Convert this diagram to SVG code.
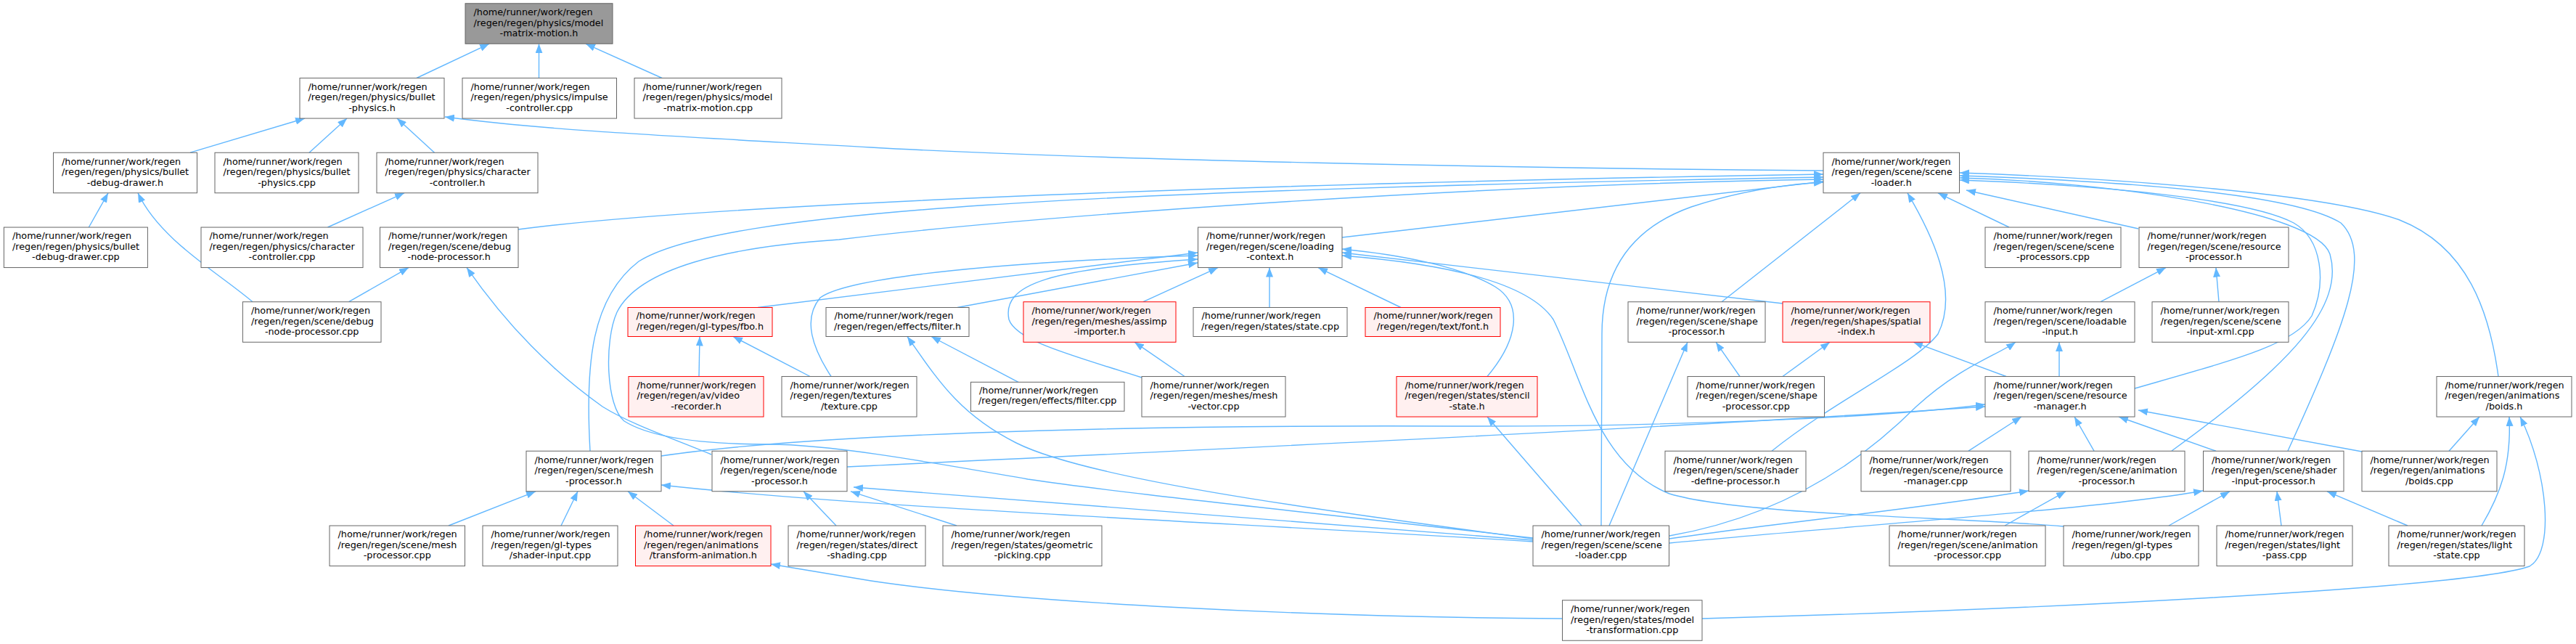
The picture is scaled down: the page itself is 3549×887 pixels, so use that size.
<svg xmlns="http://www.w3.org/2000/svg" width="3549" height="887" viewBox="0 0 3549 887">
<defs>
<style>
.nd rect{fill:#fff;stroke:#666;stroke-width:1}
.nd.r rect{fill:#fff0f0;stroke:#f00}
.nd.root rect{fill:#999;stroke:#666}
text{font-family:"DejaVu Sans","Liberation Sans",sans-serif;font-size:12.8px;fill:#000}
.c{text-anchor:middle}
.e path{fill:none;stroke:#63b8ff;stroke-width:1.4;marker-end:url(#a)}
</style>
<marker id="a" viewBox="0 0 13 10" refX="13" refY="5" markerWidth="13" markerHeight="10" markerUnits="userSpaceOnUse" orient="auto"><path d="M0,0 L13,5 L0,10 z" fill="#63b8ff"/></marker>
</defs>
<rect width="3549" height="887" fill="#fff"/>
<g id="edges" class="e">
<path d="M574,107.5 L674,60.3"/>
<path d="M742.5,107.5 L742.5,60.3"/>
<path d="M912,107.5 L807,60.3"/>
<path d="M262,210.2 L420,163"/>
<path d="M426,210.2 L478,163"/>
<path d="M598.5,210.2 L547,163"/>
<path d="M2512,235 C2100,232 1500,220 1200,203 S760,180 613,161"/>
<path d="M122.4,313 L149,265.8"/>
<path d="M348,415.7 C300,375 220,330 190,265.8"/>
<path d="M451.5,313 L557,265.8"/>
<path d="M480.6,415.7 L563,368.6"/>
<path d="M980,626 C930,605 870,585 830,560 C760,510 700,450 643,368.6"/>
<path d="M714,316 C950,285 1600,255 2512,240"/>
<path d="M1849,327 L2512,250"/>
<path d="M2768,313 L2670,265.8"/>
<path d="M2946,315 L2709,262"/>
<path d="M2372,415.7 L2563,265.8"/>
<path d="M2441,621.2 C2530,550 2640,500 2670,460 C2700,400 2660,320 2628,265.8"/>
<path d="M2206,724 L2207,460 C2207,360 2260,310 2330,285 C2400,262 2460,254 2512,251"/>
<path d="M813,621.2 C806,500 815,410 880,360 C990,290 1500,262 2512,244"/>
<path d="M2112,741 C1800,705 1550,680 1416,660 C1300,640 1150,612 1060,612 C980,612 900,605 860,580 C835,560 832,470 850,430 C880,370 1000,340 1156,330 C1400,300 2000,255 2512,247"/>
<path d="M2941,535 C3080,495 3160,475 3185,435 C3205,390 3200,330 3160,307 C3100,275 2900,255 2700,248"/>
<path d="M2992,621 C3160,500 3230,420 3210,350 C3190,290 2900,250 2700,245"/>
<path d="M3152,621 C3230,450 3270,350 3225,307 C3150,260 2850,247 2700,242"/>
<path d="M3442,518.5 C3430,430 3400,340 3306,303 C3200,265 2900,245 2700,238"/>
<path d="M2894,415.7 L2984,368.6"/>
<path d="M3057,415.7 L3053,368.6"/>
<path d="M1044,423.5 L1650,348"/>
<path d="M1319,423.5 L1650,362"/>
<path d="M1145,518.5 C1120,480 1105,440 1130,410 C1170,380 1400,360 1650,352"/>
<path d="M1573,520 C1480,490 1400,470 1390,440 C1380,390 1450,370 1650,357"/>
<path d="M1575,415.7 L1678,368.6"/>
<path d="M1749,423.5 L1749,368.6"/>
<path d="M1930,423.5 L1816,368.6"/>
<path d="M2456,418 L1849,348"/>
<path d="M2049,518.5 C2090,470 2100,420 2060,395 C2010,365 1920,350 1849,343"/>
<path d="M2843,725 C2700,712 2400,710 2300,680 C2200,640 2180,520 2140,440 C2100,380 1950,360 1849,352"/>
<path d="M963,518.5 L964,463.5"/>
<path d="M1116,518.5 L1010,463.5"/>
<path d="M1403,526.3 L1283,463.5"/>
<path d="M2112,742 C1800,700 1500,660 1400,610 C1320,570 1290,520 1250,463.5"/>
<path d="M1632,518.5 L1563,471.2"/>
<path d="M2179,724 L2049,574"/>
<path d="M2217,724 L2325,471.2"/>
<path d="M2397,518.5 L2364,471.2"/>
<path d="M2456,518.5 L2521,471.2"/>
<path d="M2764,518.5 L2636,471.2"/>
<path d="M2837,518.5 L2837,471.2"/>
<path d="M2300,738 C2450,712 2560,640 2640,560 C2700,505 2750,490 2777,471.2"/>
<path d="M911,628 C1100,600 1500,585 2000,587 C2300,588 2600,575 2735,557"/>
<path d="M1167,643 C1600,622 2300,590 2735,560"/>
<path d="M2712,621.2 L2785,574"/>
<path d="M2885,621.2 L2858,574"/>
<path d="M3053,621.2 L2919,574"/>
<path d="M3254,622 L2946,565"/>
<path d="M3374,621.2 L3416,574"/>
<path d="M3419,724 C3445,680 3460,640 3457,574"/>
<path d="M2345,852 C2800,840 3400,810 3485,780 C3520,760 3510,650 3472,574"/>
<path d="M2762,724 L2846,676.8"/>
<path d="M2300,742 C2450,720 2650,700 2795,676"/>
<path d="M2300,748 C2600,720 2900,700 3035,676"/>
<path d="M2988,724 L3072,676.8"/>
<path d="M3143,724 L3137,676.8"/>
<path d="M3317,724 L3206,676.8"/>
<path d="M618,724 L738,676.8"/>
<path d="M773,724 L796,676.8"/>
<path d="M928,724 L865,676.8"/>
<path d="M2112,746 C1700,720 1200,700 911,668"/>
<path d="M1152,724 L1107,676.8"/>
<path d="M1318,724 L1172,676.8"/>
<path d="M2112,744 C1700,710 1400,690 1176,671"/>
<path d="M2152,852 C1800,850 1400,830 1200,800 L1062,777"/>
</g>
<g id="n0" class="nd root" transform="translate(641,4.75)"><rect width="203" height="55.5"/><text x="11.5" y="16.25">/home/runner/work/regen</text><text x="11.5" y="30.75">/regen/regen/physics/model</text><text class="c" x="101.5" y="45.25">-matrix-motion.h</text></g>
<g id="n1" class="nd" transform="translate(413,107.55)"><rect width="199" height="55.5"/><text x="11.5" y="16.25">/home/runner/work/regen</text><text x="11.5" y="30.75">/regen/regen/physics/bullet</text><text class="c" x="99.5" y="45.25">-physics.h</text></g>
<g id="n2" class="nd" transform="translate(637,107.55)"><rect width="212.5" height="55.5"/><text x="11.5" y="16.25">/home/runner/work/regen</text><text x="11.5" y="30.75">/regen/regen/physics/impulse</text><text class="c" x="106.25" y="45.25">-controller.cpp</text></g>
<g id="n3" class="nd" transform="translate(874,107.55)"><rect width="203" height="55.5"/><text x="11.5" y="16.25">/home/runner/work/regen</text><text x="11.5" y="30.75">/regen/regen/physics/model</text><text class="c" x="101.5" y="45.25">-matrix-motion.cpp</text></g>
<g id="n4" class="nd" transform="translate(73.5,210.25)"><rect width="198" height="55.5"/><text x="11.5" y="16.25">/home/runner/work/regen</text><text x="11.5" y="30.75">/regen/regen/physics/bullet</text><text class="c" x="99" y="45.25">-debug-drawer.h</text></g>
<g id="n5" class="nd" transform="translate(296,210.25)"><rect width="198" height="55.5"/><text x="11.5" y="16.25">/home/runner/work/regen</text><text x="11.5" y="30.75">/regen/regen/physics/bullet</text><text class="c" x="99" y="45.25">-physics.cpp</text></g>
<g id="n6" class="nd" transform="translate(519,210.25)"><rect width="222" height="55.5"/><text x="11.5" y="16.25">/home/runner/work/regen</text><text x="11.5" y="30.75">/regen/regen/physics/character</text><text class="c" x="111" y="45.25">-controller.h</text></g>
<g id="n7" class="nd" transform="translate(2512,210.25)"><rect width="187.5" height="55.5"/><text x="11.5" y="16.25">/home/runner/work/regen</text><text x="11.5" y="30.75">/regen/regen/scene/scene</text><text class="c" x="93.75" y="45.25">-loader.h</text></g>
<g id="n8" class="nd" transform="translate(5.4,313.05)"><rect width="198" height="55.5"/><text x="11.5" y="16.25">/home/runner/work/regen</text><text x="11.5" y="30.75">/regen/regen/physics/bullet</text><text class="c" x="99" y="45.25">-debug-drawer.cpp</text></g>
<g id="n9" class="nd" transform="translate(277,313.05)"><rect width="223" height="55.5"/><text x="11.5" y="16.25">/home/runner/work/regen</text><text x="11.5" y="30.75">/regen/regen/physics/character</text><text class="c" x="111.5" y="45.25">-controller.cpp</text></g>
<g id="n10" class="nd" transform="translate(523.5,313.05)"><rect width="190.5" height="55.5"/><text x="11.5" y="16.25">/home/runner/work/regen</text><text x="11.5" y="30.75">/regen/regen/scene/debug</text><text class="c" x="95.25" y="45.25">-node-processor.h</text></g>
<g id="n11" class="nd" transform="translate(1650.5,313.05)"><rect width="198.5" height="55.5"/><text x="11.5" y="16.25">/home/runner/work/regen</text><text x="11.5" y="30.75">/regen/regen/scene/loading</text><text class="c" x="99.25" y="45.25">-context.h</text></g>
<g id="n12" class="nd" transform="translate(2735,313.05)"><rect width="187" height="55.5"/><text x="11.5" y="16.25">/home/runner/work/regen</text><text x="11.5" y="30.75">/regen/regen/scene/scene</text><text class="c" x="93.5" y="45.25">-processors.cpp</text></g>
<g id="n13" class="nd" transform="translate(2947,313.05)"><rect width="206" height="55.5"/><text x="11.5" y="16.25">/home/runner/work/regen</text><text x="11.5" y="30.75">/regen/regen/scene/resource</text><text class="c" x="103" y="45.25">-processor.h</text></g>
<g id="n14" class="nd" transform="translate(334.4,415.75)"><rect width="190.6" height="55.5"/><text x="11.5" y="16.25">/home/runner/work/regen</text><text x="11.5" y="30.75">/regen/regen/scene/debug</text><text class="c" x="95.3" y="45.25">-node-processor.cpp</text></g>
<g id="n15" class="nd r" transform="translate(865,423.5)"><rect width="199" height="40"/><text x="11.5" y="15.7">/home/runner/work/regen</text><text class="c" x="99.5" y="30">/regen/regen/gl-types/fbo.h</text></g>
<g id="n16" class="nd" transform="translate(1138,423.5)"><rect width="197" height="40"/><text x="11.5" y="15.7">/home/runner/work/regen</text><text class="c" x="98.5" y="30">/regen/regen/effects/filter.h</text></g>
<g id="n17" class="nd r" transform="translate(1410,415.75)"><rect width="210" height="55.5"/><text x="11.5" y="16.25">/home/runner/work/regen</text><text x="11.5" y="30.75">/regen/regen/meshes/assimp</text><text class="c" x="105" y="45.25">-importer.h</text></g>
<g id="n18" class="nd" transform="translate(1644,423.5)"><rect width="212" height="40"/><text x="11.5" y="15.7">/home/runner/work/regen</text><text class="c" x="106" y="30">/regen/regen/states/state.cpp</text></g>
<g id="n19" class="nd r" transform="translate(1881,423.5)"><rect width="186" height="40"/><text x="11.5" y="15.7">/home/runner/work/regen</text><text class="c" x="93" y="30">/regen/regen/text/font.h</text></g>
<g id="n20" class="nd" transform="translate(2243,415.75)"><rect width="189" height="55.5"/><text x="11.5" y="16.25">/home/runner/work/regen</text><text x="11.5" y="30.75">/regen/regen/scene/shape</text><text class="c" x="94.5" y="45.25">-processor.h</text></g>
<g id="n21" class="nd r" transform="translate(2456,415.75)"><rect width="203" height="55.5"/><text x="11.5" y="16.25">/home/runner/work/regen</text><text x="11.5" y="30.75">/regen/regen/shapes/spatial</text><text class="c" x="101.5" y="45.25">-index.h</text></g>
<g id="n22" class="nd" transform="translate(2735,415.75)"><rect width="206" height="55.5"/><text x="11.5" y="16.25">/home/runner/work/regen</text><text x="11.5" y="30.75">/regen/regen/scene/loadable</text><text class="c" x="103" y="45.25">-input.h</text></g>
<g id="n23" class="nd" transform="translate(2965,415.75)"><rect width="188" height="55.5"/><text x="11.5" y="16.25">/home/runner/work/regen</text><text x="11.5" y="30.75">/regen/regen/scene/scene</text><text class="c" x="94" y="45.25">-input-xml.cpp</text></g>
<g id="n24" class="nd r" transform="translate(866,518.55)"><rect width="186" height="55.5"/><text x="11.5" y="16.25">/home/runner/work/regen</text><text x="11.5" y="30.75">/regen/regen/av/video</text><text class="c" x="93" y="45.25">-recorder.h</text></g>
<g id="n25" class="nd" transform="translate(1077,518.55)"><rect width="186" height="55.5"/><text x="11.5" y="16.25">/home/runner/work/regen</text><text x="11.5" y="30.75">/regen/regen/textures</text><text class="c" x="93" y="45.25">/texture.cpp</text></g>
<g id="n26" class="nd" transform="translate(1337.5,526.3)"><rect width="211.5" height="40"/><text x="11.5" y="15.7">/home/runner/work/regen</text><text class="c" x="105.75" y="30">/regen/regen/effects/filter.cpp</text></g>
<g id="n27" class="nd" transform="translate(1573,518.55)"><rect width="198" height="55.5"/><text x="11.5" y="16.25">/home/runner/work/regen</text><text x="11.5" y="30.75">/regen/regen/meshes/mesh</text><text class="c" x="99" y="45.25">-vector.cpp</text></g>
<g id="n28" class="nd r" transform="translate(1924,518.55)"><rect width="194" height="55.5"/><text x="11.5" y="16.25">/home/runner/work/regen</text><text x="11.5" y="30.75">/regen/regen/states/stencil</text><text class="c" x="97" y="45.25">-state.h</text></g>
<g id="n29" class="nd" transform="translate(2325,518.55)"><rect width="188.5" height="55.5"/><text x="11.5" y="16.25">/home/runner/work/regen</text><text x="11.5" y="30.75">/regen/regen/scene/shape</text><text class="c" x="94.25" y="45.25">-processor.cpp</text></g>
<g id="n30" class="nd" transform="translate(2735,518.55)"><rect width="206" height="55.5"/><text x="11.5" y="16.25">/home/runner/work/regen</text><text x="11.5" y="30.75">/regen/regen/scene/resource</text><text class="c" x="103" y="45.25">-manager.h</text></g>
<g id="n31" class="nd" transform="translate(3357,518.55)"><rect width="186" height="55.5"/><text x="11.5" y="16.25">/home/runner/work/regen</text><text x="11.5" y="30.75">/regen/regen/animations</text><text class="c" x="93" y="45.25">/boids.h</text></g>
<g id="n32" class="nd" transform="translate(725,621.25)"><rect width="186" height="55.5"/><text x="11.5" y="16.25">/home/runner/work/regen</text><text x="11.5" y="30.75">/regen/regen/scene/mesh</text><text class="c" x="93" y="45.25">-processor.h</text></g>
<g id="n33" class="nd" transform="translate(981,621.25)"><rect width="186" height="55.5"/><text x="11.5" y="16.25">/home/runner/work/regen</text><text x="11.5" y="30.75">/regen/regen/scene/node</text><text class="c" x="93" y="45.25">-processor.h</text></g>
<g id="n34" class="nd" transform="translate(2294,621.25)"><rect width="194" height="55.5"/><text x="11.5" y="16.25">/home/runner/work/regen</text><text x="11.5" y="30.75">/regen/regen/scene/shader</text><text class="c" x="97" y="45.25">-define-processor.h</text></g>
<g id="n35" class="nd" transform="translate(2564,621.25)"><rect width="206" height="55.5"/><text x="11.5" y="16.25">/home/runner/work/regen</text><text x="11.5" y="30.75">/regen/regen/scene/resource</text><text class="c" x="103" y="45.25">-manager.cpp</text></g>
<g id="n36" class="nd" transform="translate(2795,621.25)"><rect width="215" height="55.5"/><text x="11.5" y="16.25">/home/runner/work/regen</text><text x="11.5" y="30.75">/regen/regen/scene/animation</text><text class="c" x="107.5" y="45.25">-processor.h</text></g>
<g id="n37" class="nd" transform="translate(3035.5,621.25)"><rect width="193.5" height="55.5"/><text x="11.5" y="16.25">/home/runner/work/regen</text><text x="11.5" y="30.75">/regen/regen/scene/shader</text><text class="c" x="96.75" y="45.25">-input-processor.h</text></g>
<g id="n38" class="nd" transform="translate(3254,621.25)"><rect width="186" height="55.5"/><text x="11.5" y="16.25">/home/runner/work/regen</text><text x="11.5" y="30.75">/regen/regen/animations</text><text class="c" x="93" y="45.25">/boids.cpp</text></g>
<g id="n39" class="nd" transform="translate(454,724.05)"><rect width="186.5" height="55.5"/><text x="11.5" y="16.25">/home/runner/work/regen</text><text x="11.5" y="30.75">/regen/regen/scene/mesh</text><text class="c" x="93.25" y="45.25">-processor.cpp</text></g>
<g id="n40" class="nd" transform="translate(665,724.05)"><rect width="186" height="55.5"/><text x="11.5" y="16.25">/home/runner/work/regen</text><text x="11.5" y="30.75">/regen/regen/gl-types</text><text class="c" x="93" y="45.25">/shader-input.cpp</text></g>
<g id="n41" class="nd r" transform="translate(875.5,724.05)"><rect width="186.5" height="55.5"/><text x="11.5" y="16.25">/home/runner/work/regen</text><text x="11.5" y="30.75">/regen/regen/animations</text><text class="c" x="93.25" y="45.25">/transform-animation.h</text></g>
<g id="n42" class="nd" transform="translate(1086,724.05)"><rect width="189" height="55.5"/><text x="11.5" y="16.25">/home/runner/work/regen</text><text x="11.5" y="30.75">/regen/regen/states/direct</text><text class="c" x="94.5" y="45.25">-shading.cpp</text></g>
<g id="n43" class="nd" transform="translate(1299,724.05)"><rect width="219" height="55.5"/><text x="11.5" y="16.25">/home/runner/work/regen</text><text x="11.5" y="30.75">/regen/regen/states/geometric</text><text class="c" x="109.5" y="45.25">-picking.cpp</text></g>
<g id="n44" class="nd" transform="translate(2112,724.05)"><rect width="187.5" height="55.5"/><text x="11.5" y="16.25">/home/runner/work/regen</text><text x="11.5" y="30.75">/regen/regen/scene/scene</text><text class="c" x="93.75" y="45.25">-loader.cpp</text></g>
<g id="n45" class="nd" transform="translate(2603,724.05)"><rect width="215" height="55.5"/><text x="11.5" y="16.25">/home/runner/work/regen</text><text x="11.5" y="30.75">/regen/regen/scene/animation</text><text class="c" x="107.5" y="45.25">-processor.cpp</text></g>
<g id="n46" class="nd" transform="translate(2843,724.05)"><rect width="186" height="55.5"/><text x="11.5" y="16.25">/home/runner/work/regen</text><text x="11.5" y="30.75">/regen/regen/gl-types</text><text class="c" x="93" y="45.25">/ubo.cpp</text></g>
<g id="n47" class="nd" transform="translate(3054,724.05)"><rect width="187" height="55.5"/><text x="11.5" y="16.25">/home/runner/work/regen</text><text x="11.5" y="30.75">/regen/regen/states/light</text><text class="c" x="93.5" y="45.25">-pass.cpp</text></g>
<g id="n48" class="nd" transform="translate(3291,724.05)"><rect width="187" height="55.5"/><text x="11.5" y="16.25">/home/runner/work/regen</text><text x="11.5" y="30.75">/regen/regen/states/light</text><text class="c" x="93.5" y="45.25">-state.cpp</text></g>
<g id="n49" class="nd" transform="translate(2152.5,826.75)"><rect width="192.5" height="55.5"/><text x="11.5" y="16.25">/home/runner/work/regen</text><text x="11.5" y="30.75">/regen/regen/states/model</text><text class="c" x="96.25" y="45.25">-transformation.cpp</text></g>
</svg>
